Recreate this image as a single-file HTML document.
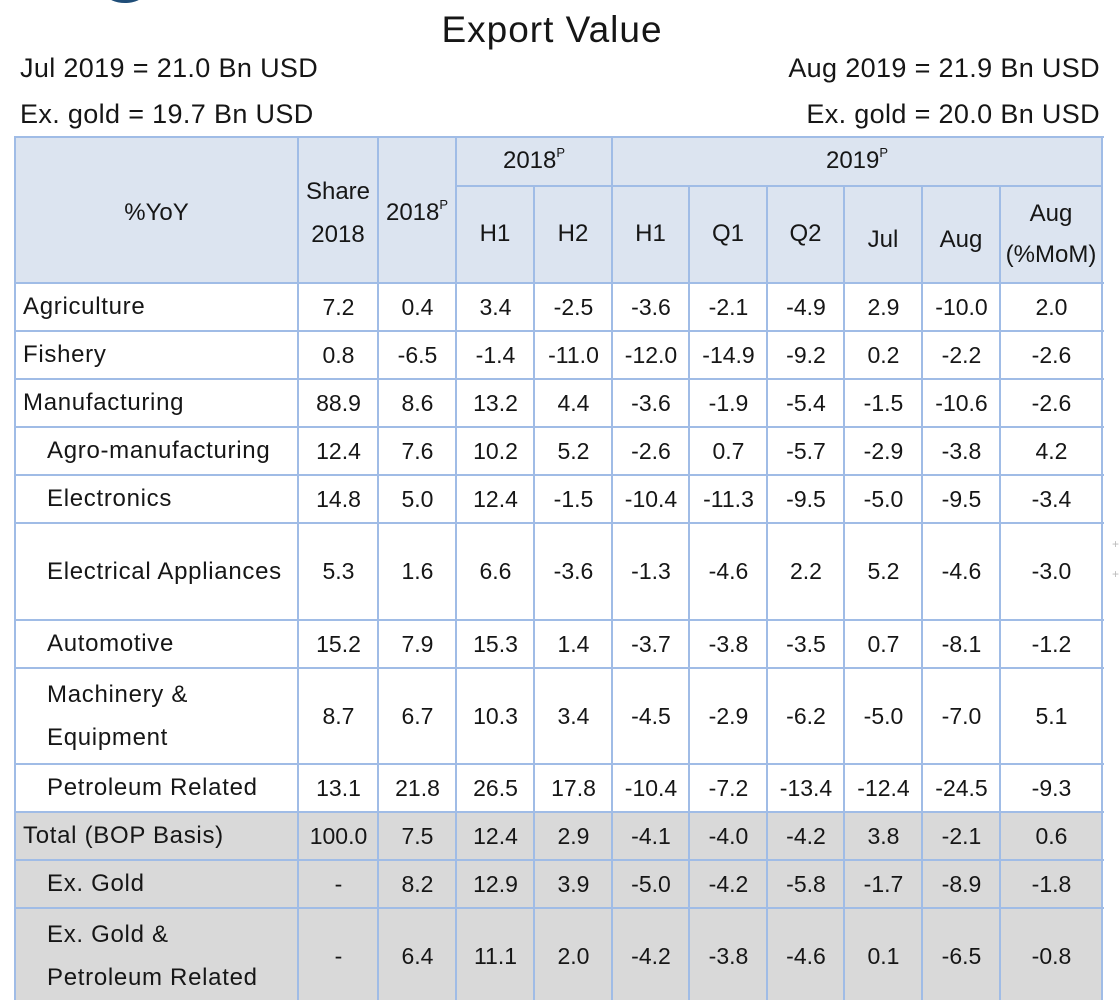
<!DOCTYPE html>
<html><head><meta charset="utf-8"><style>
html{margin:0;padding:0;background:#fff;width:1119px;height:1000px;overflow:hidden;}
body{margin:0;padding:0;background:#fff;width:1119px;height:1000px;position:relative;overflow:hidden;font-family:"Liberation Sans",sans-serif;color:#161616;}
.t{position:absolute;white-space:nowrap;line-height:1;}
.bg{position:absolute;}
.v{position:absolute;width:2px;background:#a0bce6;}
.h{position:absolute;height:2px;background:#a0bce6;}
.r{position:absolute;left:0;width:1119px;}
.r>div{position:absolute;top:0;height:100%;display:flex;align-items:center;justify-content:center;font-size:23px;white-space:nowrap;}
.r>.l{justify-content:flex-start;left:23px;width:275px;font-size:24px;letter-spacing:0.7px;}
.r>.l.s{left:47px;width:251px;}
.ml{line-height:43px;}
.c1{left:299px;width:79px}
.c2{left:379px;width:77px}
.c3{left:457px;width:77px}
.c4{left:535px;width:77px}
.c5{left:613px;width:76px}
.c6{left:690px;width:77px}
.c7{left:768px;width:76px}
.c8{left:845px;width:77px}
.c9{left:923px;width:77px}
.c10{left:1001px;width:101px}
.hd{position:absolute;font-size:24px;text-align:center;line-height:1;white-space:nowrap;}
.sp{font-size:13px;position:relative;top:-11px;}
</style></head><body>

<!-- logo fragment -->
<div class="bg" style="left:107px;top:-14px;width:36px;height:17px;border-radius:50%;background:#1f4d78;"></div>

<div class="t" style="left:0;width:1104px;text-align:center;top:11px;font-size:37px;letter-spacing:1px;">Export Value</div>
<div class="t" style="left:20px;top:55px;font-size:27px;letter-spacing:0.35px;">Jul 2019 = 21.0 Bn USD</div>
<div class="t" style="left:20px;top:101px;font-size:27px;letter-spacing:0.35px;">Ex. gold = 19.7 Bn USD</div>
<div class="t" style="right:19px;top:55px;font-size:27px;letter-spacing:0.35px;">Aug 2019 = 21.9 Bn USD</div>
<div class="t" style="right:19px;top:101px;font-size:27px;letter-spacing:0.35px;">Ex. gold = 20.0 Bn USD</div>

<!-- backgrounds -->
<div class="bg" style="left:15px;top:137px;width:1088px;height:147px;background:#dce4f0;"></div>
<div class="bg" style="left:15px;top:812px;width:1088px;height:188px;background:#d9d9d9;"></div>

<!-- header text -->
<div class="hd" style="left:15px;width:283px;top:201px;">%YoY</div>
<div class="hd" style="left:298px;width:80px;top:180px;">Share</div>
<div class="hd" style="left:298px;width:80px;top:223px;">2018</div>
<div class="hd" style="left:378px;width:78px;top:201px;">2018<span class="sp">P</span></div>
<div class="hd" style="left:456px;width:156px;top:149px;">2018<span class="sp">P</span></div>
<div class="hd" style="left:612px;width:490px;top:149px;">2019<span class="sp">P</span></div>
<div class="hd" style="left:456px;width:78px;top:222px;">H1</div>
<div class="hd" style="left:534px;width:78px;top:222px;">H2</div>
<div class="hd" style="left:612px;width:77px;top:222px;">H1</div>
<div class="hd" style="left:689px;width:78px;top:222px;">Q1</div>
<div class="hd" style="left:767px;width:77px;top:222px;">Q2</div>
<div class="hd" style="left:844px;width:78px;top:228px;">Jul</div>
<div class="hd" style="left:922px;width:78px;top:228px;">Aug</div>
<div class="hd" style="left:1000px;width:102px;top:202px;">Aug</div>
<div class="hd" style="left:1000px;width:102px;top:243px;">(%MoM)</div>

<!-- rows -->
<div class="r" style="top:283px;height:48px;"><div class="l">Agriculture</div><div class="c1">7.2</div><div class="c2">0.4</div><div class="c3">3.4</div><div class="c4">-2.5</div><div class="c5">-3.6</div><div class="c6">-2.1</div><div class="c7">-4.9</div><div class="c8">2.9</div><div class="c9">-10.0</div><div class="c10">2.0</div></div>
<div class="r" style="top:331px;height:48px;"><div class="l">Fishery</div><div class="c1">0.8</div><div class="c2">-6.5</div><div class="c3">-1.4</div><div class="c4">-11.0</div><div class="c5">-12.0</div><div class="c6">-14.9</div><div class="c7">-9.2</div><div class="c8">0.2</div><div class="c9">-2.2</div><div class="c10">-2.6</div></div>
<div class="r" style="top:379px;height:48px;"><div class="l">Manufacturing</div><div class="c1">88.9</div><div class="c2">8.6</div><div class="c3">13.2</div><div class="c4">4.4</div><div class="c5">-3.6</div><div class="c6">-1.9</div><div class="c7">-5.4</div><div class="c8">-1.5</div><div class="c9">-10.6</div><div class="c10">-2.6</div></div>
<div class="r" style="top:427px;height:48px;"><div class="l s">Agro-manufacturing</div><div class="c1">12.4</div><div class="c2">7.6</div><div class="c3">10.2</div><div class="c4">5.2</div><div class="c5">-2.6</div><div class="c6">0.7</div><div class="c7">-5.7</div><div class="c8">-2.9</div><div class="c9">-3.8</div><div class="c10">4.2</div></div>
<div class="r" style="top:475px;height:48px;"><div class="l s">Electronics</div><div class="c1">14.8</div><div class="c2">5.0</div><div class="c3">12.4</div><div class="c4">-1.5</div><div class="c5">-10.4</div><div class="c6">-11.3</div><div class="c7">-9.5</div><div class="c8">-5.0</div><div class="c9">-9.5</div><div class="c10">-3.4</div></div>
<div class="r" style="top:523px;height:97px;"><div class="l s">Electrical Appliances</div><div class="c1">5.3</div><div class="c2">1.6</div><div class="c3">6.6</div><div class="c4">-3.6</div><div class="c5">-1.3</div><div class="c6">-4.6</div><div class="c7">2.2</div><div class="c8">5.2</div><div class="c9">-4.6</div><div class="c10">-3.0</div></div>
<div class="r" style="top:620px;height:48px;"><div class="l s">Automotive</div><div class="c1">15.2</div><div class="c2">7.9</div><div class="c3">15.3</div><div class="c4">1.4</div><div class="c5">-3.7</div><div class="c6">-3.8</div><div class="c7">-3.5</div><div class="c8">0.7</div><div class="c9">-8.1</div><div class="c10">-1.2</div></div>
<div class="r" style="top:668px;height:96px;"><div class="l s ml">Machinery &amp;<br>Equipment</div><div class="c1">8.7</div><div class="c2">6.7</div><div class="c3">10.3</div><div class="c4">3.4</div><div class="c5">-4.5</div><div class="c6">-2.9</div><div class="c7">-6.2</div><div class="c8">-5.0</div><div class="c9">-7.0</div><div class="c10">5.1</div></div>
<div class="r" style="top:764px;height:48px;"><div class="l s">Petroleum Related</div><div class="c1">13.1</div><div class="c2">21.8</div><div class="c3">26.5</div><div class="c4">17.8</div><div class="c5">-10.4</div><div class="c6">-7.2</div><div class="c7">-13.4</div><div class="c8">-12.4</div><div class="c9">-24.5</div><div class="c10">-9.3</div></div>
<div class="r" style="top:812px;height:48px;"><div class="l">Total (BOP Basis)</div><div class="c1">100.0</div><div class="c2">7.5</div><div class="c3">12.4</div><div class="c4">2.9</div><div class="c5">-4.1</div><div class="c6">-4.0</div><div class="c7">-4.2</div><div class="c8">3.8</div><div class="c9">-2.1</div><div class="c10">0.6</div></div>
<div class="r" style="top:860px;height:48px;"><div class="l s">Ex. Gold</div><div class="c1">-</div><div class="c2">8.2</div><div class="c3">12.9</div><div class="c4">3.9</div><div class="c5">-5.0</div><div class="c6">-4.2</div><div class="c7">-5.8</div><div class="c8">-1.7</div><div class="c9">-8.9</div><div class="c10">-1.8</div></div>
<div class="r" style="top:908px;height:96px;"><div class="l s ml">Ex. Gold &amp;<br>Petroleum Related</div><div class="c1">-</div><div class="c2">6.4</div><div class="c3">11.1</div><div class="c4">2.0</div><div class="c5">-4.2</div><div class="c6">-3.8</div><div class="c7">-4.6</div><div class="c8">0.1</div><div class="c9">-6.5</div><div class="c10">-0.8</div></div>

<!-- horizontal lines -->
<div class="h" style="left:14px;width:1090px;top:136px;"></div>
<div class="h" style="left:456px;width:647px;top:185px;"></div>
<div class="h" style="left:14px;width:1090px;top:282px;"></div>
<div class="h" style="left:14px;width:1090px;top:330px;"></div>
<div class="h" style="left:14px;width:1090px;top:378px;"></div>
<div class="h" style="left:14px;width:1090px;top:426px;"></div>
<div class="h" style="left:14px;width:1090px;top:474px;"></div>
<div class="h" style="left:14px;width:1090px;top:522px;"></div>
<div class="h" style="left:14px;width:1090px;top:619px;"></div>
<div class="h" style="left:14px;width:1090px;top:667px;"></div>
<div class="h" style="left:14px;width:1090px;top:763px;"></div>
<div class="h" style="left:14px;width:1090px;top:811px;"></div>
<div class="h" style="left:14px;width:1090px;top:859px;"></div>
<div class="h" style="left:14px;width:1090px;top:907px;"></div>

<!-- vertical lines -->
<div class="v" style="left:14px;top:136px;height:864px;"></div>
<div class="v" style="left:297px;top:136px;height:864px;"></div>
<div class="v" style="left:377px;top:136px;height:864px;"></div>
<div class="v" style="left:455px;top:136px;height:864px;"></div>
<div class="v" style="left:533px;top:185px;height:815px;"></div>
<div class="v" style="left:611px;top:136px;height:864px;"></div>
<div class="v" style="left:688px;top:185px;height:815px;"></div>
<div class="v" style="left:766px;top:185px;height:815px;"></div>
<div class="v" style="left:843px;top:185px;height:815px;"></div>
<div class="v" style="left:921px;top:185px;height:815px;"></div>
<div class="v" style="left:999px;top:185px;height:815px;"></div>
<div class="v" style="left:1101px;top:136px;height:864px;"></div>

<!-- faint marks at right edge -->
<div class="t" style="left:1112px;top:538px;font-size:12px;color:#bbb;">+</div>
<div class="t" style="left:1112px;top:568px;font-size:12px;color:#bbb;">+</div>

</body></html>
